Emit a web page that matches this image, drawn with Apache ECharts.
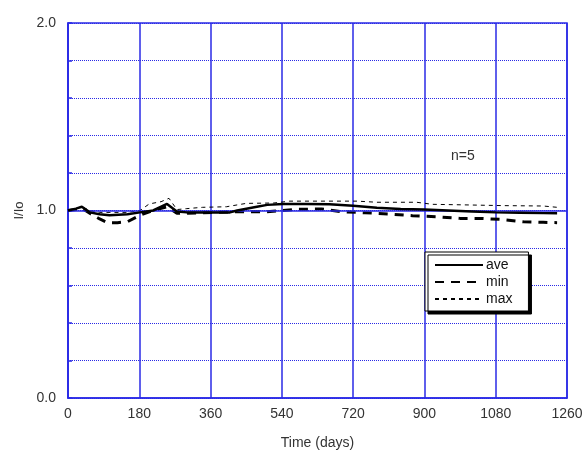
<!DOCTYPE html>
<html><head><meta charset="utf-8">
<script src="https://cdn.jsdelivr.net/npm/echarts@6/dist/echarts.min.js"></script>
<style>html,body{margin:0;padding:0;background:#fff}#c{width:586px;height:458px}</style>
</head><body><div id="c"></div>
<script>
var xTicks = [0, 180, 360, 540, 720, 900, 1080, 1260];
var yTickLabels = ['0.0', '1.0', '2.0'];
var aveDays = [0, 20, 35, 55, 80, 105, 150, 182, 215, 250, 275, 300, 360, 409, 427, 477, 503, 543, 600, 660, 720, 780, 840, 900, 960, 1020, 1080, 1140, 1200, 1235];
var aveVals = [1.0, 1.01, 1.02, 0.99, 0.98, 0.975, 0.98, 0.99, 1.0, 1.035, 0.995, 0.99, 0.99, 0.99, 1.0, 1.02, 1.03, 1.035, 1.035, 1.033, 1.025, 1.015, 1.008, 1.005, 1.0, 0.995, 0.99, 0.988, 0.986, 0.985];
var minDays = [0, 20, 35, 55, 80, 100, 125, 150, 182, 215, 250, 275, 300, 340, 380, 420, 470, 500, 540, 580, 640, 690, 750, 810, 870, 930, 990, 1040, 1090, 1150, 1200, 1235];
var minVals = [1.0, 1.005, 1.012, 0.985, 0.955, 0.935, 0.935, 0.94, 0.975, 1.0, 1.02, 0.985, 0.985, 0.988, 0.99, 0.993, 0.993, 0.993, 1.0, 1.006, 1.008, 0.994, 0.988, 0.981, 0.972, 0.967, 0.958, 0.958, 0.953, 0.94, 0.937, 0.935];
var maxDays = [0, 20, 35, 55, 80, 110, 150, 182, 205, 235, 255, 275, 300, 340, 400, 450, 520, 560, 730, 780, 880, 920, 1000, 1100, 1200, 1235];
var maxVals = [1.0, 1.01, 1.02, 1.0, 0.99, 0.99, 0.99, 1.0, 1.035, 1.047, 1.065, 1.005, 1.01, 1.017, 1.02, 1.038, 1.04, 1.05, 1.05, 1.044, 1.044, 1.033, 1.03, 1.026, 1.024, 1.017];
var refValue = 1.0;
var noteText = 'n=5';

function pairs(xs, ys) { return xs.map(function (x, i) { return [x, ys[i]]; }); }
var blue = '#2a2ae6';
var chart = echarts.init(document.getElementById('c'));
chart.setOption({
  animation: false,
  backgroundColor: '#fff',
  textStyle: { fontFamily: 'Liberation Sans, Arial, sans-serif' },
  title: { text: noteText, left: 446, top: 144, textStyle: { fontSize: 14, fontWeight: 'normal', color: '#333' } },
  grid: { left: 68, right: 19, top: 23, bottom: 60, show: true, borderColor: blue, borderWidth: 1.5, backgroundColor: 'transparent' },
  legend: {
    orient: 'vertical', left: 425, top: 252,
    itemWidth: 48, itemHeight: 10, itemGap: 3, padding: [6, 16, 5, 9],
    backgroundColor: '#fff', borderColor: '#000', borderWidth: 1,
    shadowColor: '#000', shadowBlur: 0, shadowOffsetX: 3, shadowOffsetY: 3,
    itemStyle: { opacity: 0, borderWidth: 0 },
    textStyle: { fontSize: 14, color: '#111', padding: [0, 0, 0, -2] },
    data: ['ave', 'min', 'max']
  },
  xAxis: {
    type: 'value', min: 0, max: 1260, interval: 180,
    name: 'Time (days)', nameLocation: 'middle', nameGap: 38,
    nameTextStyle: { fontSize: 14, color: '#333' },
    axisLine: { show: true, lineStyle: { color: blue, width: 1.5 } },
    axisTick: { show: false },
    axisLabel: { fontSize: 14, color: '#333', margin: 9, formatter: function (v) { return xTicks.indexOf(v) >= 0 ? String(v) : ''; } },
    splitLine: { show: true, lineStyle: { color: blue, width: 1.5, type: 'solid' } }
  },
  yAxis: {
    type: 'value', min: 0, max: 2, interval: 0.2,
    name: 'I/Io', nameLocation: 'middle', nameGap: 42,
    nameTextStyle: { fontSize: 13, color: '#333' },
    axisLine: { show: true, lineStyle: { color: blue, width: 1.5 } },
    axisTick: { show: true, inside: true, length: 4, lineStyle: { color: blue, width: 1.5 } },
    axisLabel: { fontSize: 14, color: '#333', margin: 12, formatter: function (v) {
      var s = v.toFixed(1); return yTickLabels.indexOf(s) >= 0 ? s : ''; } },
    splitLine: { show: true, lineStyle: { color: blue, width: 1, type: [1, 1] } }
  },
  series: [
    { name: 'ref', type: 'line', data: [], silent: true, z: 1,
      markLine: { silent: true, symbol: 'none', label: { show: false }, lineStyle: { color: blue, width: 1.5, type: 'solid' }, data: [{ yAxis: refValue }] } },
    { name: 'ave', type: 'line', symbol: 'none', z: 5, data: pairs(aveDays, aveVals), lineStyle: { color: '#000', width: 2.5, type: 'solid' }, itemStyle: { color: '#000' } },
    { name: 'min', type: 'line', symbol: 'none', z: 4, data: pairs(minDays, minVals), lineStyle: { color: '#000', width: 3, type: [9, 7] }, itemStyle: { color: '#000' } },
    { name: 'max', type: 'line', symbol: 'none', z: 3, data: pairs(maxDays, maxVals), lineStyle: { color: '#000', width: 1, type: [4, 4] }, itemStyle: { color: '#000' } }
  ]
});
</script></body></html>
